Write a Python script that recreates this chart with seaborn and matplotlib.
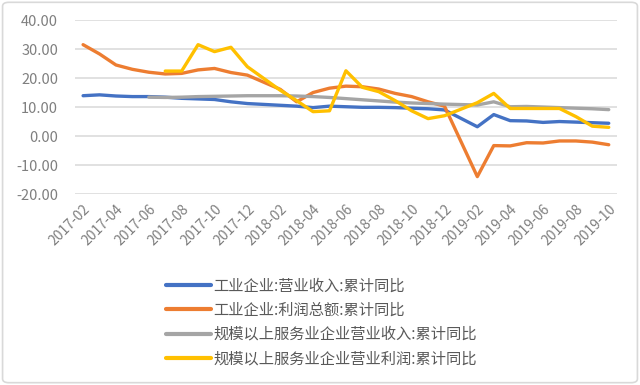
import matplotlib
matplotlib.use("Agg")
import matplotlib.pyplot as plt
import seaborn as sns
import pandas as pd
from matplotlib.patches import FancyBboxPatch

# months reported (January is merged into February in the source data)
months = ["2017-02", "2017-03", "2017-04", "2017-05", "2017-06", "2017-07", "2017-08",
          "2017-09", "2017-10", "2017-11", "2017-12",
          "2018-02", "2018-03", "2018-04", "2018-05", "2018-06", "2018-07", "2018-08",
          "2018-09", "2018-10", "2018-11", "2018-12",
          "2019-02", "2019-03", "2019-04", "2019-05", "2019-06", "2019-07", "2019-08",
          "2019-09", "2019-10"]

ind_revenue = [13.9, 14.2, 13.8, 13.6, 13.6, 13.4, 13.0, 12.8, 12.6, 11.8, 11.2,
               10.6, 10.3, 9.8, 10.3, 10.1, 9.9, 9.9, 9.8, 9.6, 9.4, 9.0,
               3.2, 7.4, 5.3, 5.2, 4.7, 5.0, 4.8, 4.6, 4.4]
ind_profit = [31.5, 28.3, 24.5, 23.0, 22.0, 21.4, 21.6, 22.8, 23.3, 21.9, 21.0,
              16.1, 11.8, 15.0, 16.5, 17.2, 17.0, 16.2, 14.7, 13.6, 11.8, 10.3,
              -14.0, -3.3, -3.4, -2.3, -2.4, -1.7, -1.7, -2.1, -3.0]
svc_revenue = [None, None, None, None, 13.4, 13.3, 13.4, 13.6, 13.7, 13.8, 13.9,
               13.9, 13.8, 13.6, 13.3, 12.9, 12.5, 12.1, 11.7, 11.4, 11.2, 11.0,
               10.7, 11.8, 10.1, 10.2, 10.0, 9.8, 9.6, 9.4, 9.1]
svc_profit = [None, None, None, None, None, 22.4, 22.4, 31.5, 29.1, 30.6, 23.9,
              15.8, 12.2, 8.4, 8.7, 22.5, 16.8, 15.3, 12.2, 8.7, 6.0, 7.0,
              11.5, 14.7, 9.5, 9.5, 9.5, 9.5, 6.7, 3.4, 3.0]

series_names = ["工业企业:营业收入:累计同比", "工业企业:利润总额:累计同比",
                "规模以上服务业企业营业收入:累计同比", "规模以上服务业企业营业利润:累计同比"]
colors = ["#4472C4", "#ED7D31", "#A5A5A5", "#FFC000"]

tick_labels = ["2017-02", "2017-04", "2017-06", "2017-08", "2017-10", "2017-12",
               "2018-02", "2018-04", "2018-06", "2018-08", "2018-10", "2018-12",
               "2019-02", "2019-04", "2019-06", "2019-08", "2019-10"]


def month_index(s):
    y, m = s.split("-")
    return (int(y) - 2017) * 12 + int(m) - 2


frames = []
for name, vals in zip(series_names, [ind_revenue, ind_profit, svc_revenue, svc_profit]):
    frames.append(pd.DataFrame({"month": months, "value": vals, "series": name}))
df = pd.concat(frames).dropna()
df["value"] = df["value"].astype(float)
df["x"] = df["month"].map(month_index)

sns.set_style("white")
plt.rcParams["font.family"] = ["Noto Sans CJK SC", "DejaVu Sans"]

fig = plt.figure(figsize=(6.4, 3.85), dpi=100)
ax = fig.add_axes([0.117, 0.496, 0.847, 0.452])

sns.lineplot(data=df, x="x", y="value", hue="series", hue_order=series_names,
             palette=colors, linewidth=2.4, legend=False, ax=ax)

ax.set_xlim(-0.5, 32.5)
ax.set_ylim(-20, 40)
ax.set_yticks(range(-20, 41, 10))
ax.set_yticklabels([f"{v:.2f}" for v in range(-20, 41, 10)], fontsize=10.5, color="#7f7f7f")
ax.set_xticks([month_index(t) for t in tick_labels])
ax.set_xticklabels(tick_labels, rotation=45, ha="right", rotation_mode="anchor",
                   fontsize=10, color="#7f7f7f")
ax.tick_params(axis="x", length=0, pad=6)
ax.tick_params(axis="y", length=0, pad=12)
ax.yaxis.grid(True, color="#d9d9d9", linewidth=1.1)
ax.set_axisbelow(True)
for s in ax.spines.values():
    s.set_visible(False)
ax.set_xlabel("")
ax.set_ylabel("")

handles = [plt.Line2D([], [], color=c, linewidth=3) for c in colors]
fig.legend(handles, series_names, loc="upper left", bbox_to_anchor=(0.25, 0.295),
           frameon=False, fontsize=11, handlelength=2.95, handletextpad=0.15,
           labelspacing=0.47, labelcolor="#595959", borderaxespad=0)

fig.patches.append(FancyBboxPatch((0.004, 0.006), 0.992, 0.988,
                                  boxstyle="round,pad=0,rounding_size=0.01",
                                  transform=fig.transFigure, fill=False,
                                  edgecolor="#d9d9d9", linewidth=1.2))

fig.savefig("out.png", dpi=100)
